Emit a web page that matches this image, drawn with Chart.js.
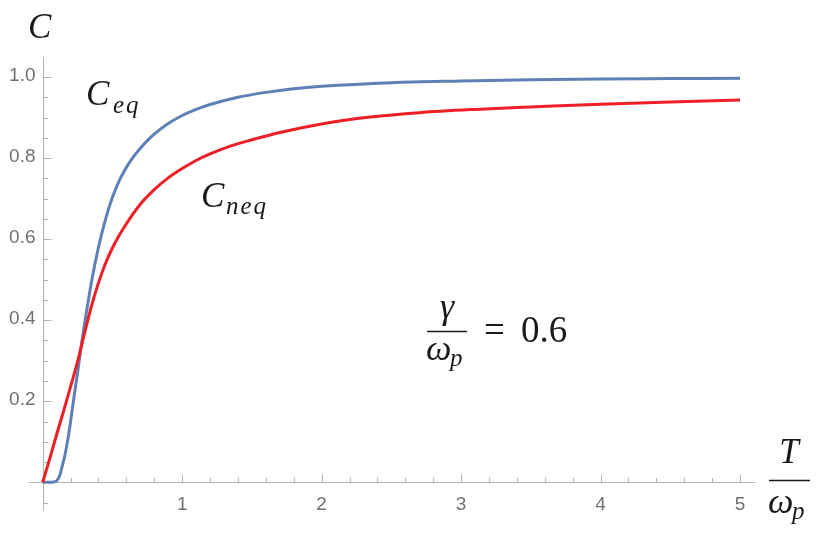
<!DOCTYPE html>
<html>
<head>
<meta charset="UTF-8">
<title>C vs T / omega_p</title>
<style>
  body { margin: 0; background: #fff; }
  #wrap { width: 819px; height: 533px; }
</style>
</head>
<body>
<div id="wrap"><canvas id="chart" width="819" height="533"></canvas></div>
<script src="https://cdn.jsdelivr.net/npm/chart.js"></script>
<script>
// values
const eqT = [0, 0.05, 0.08, 0.1, 0.12, 0.14, 0.16, 0.18, 0.2, 0.22, 0.25, 0.28, 0.3, 0.35, 0.4, 0.45, 0.5, 0.55, 0.6, 0.65, 0.7, 0.75, 0.8, 0.9, 1.0, 1.1, 1.2, 1.4, 1.6, 1.8, 2.0, 2.5, 3.0, 3.5, 4.0, 4.5, 5.0];
const eqC = [0, 0, 0.001, 0.004, 0.015, 0.04, 0.068, 0.105, 0.15, 0.2, 0.27, 0.345, 0.39, 0.495, 0.58, 0.648, 0.703, 0.745, 0.777, 0.803, 0.824, 0.843, 0.859, 0.885, 0.905, 0.92, 0.932, 0.95, 0.962, 0.971, 0.977, 0.986, 0.99, 0.993, 0.995, 0.996, 0.997];

const neqT = [0, 0.05, 0.1, 0.15, 0.2, 0.25, 0.3, 0.35, 0.4, 0.45, 0.5, 0.55, 0.6, 0.7, 0.8, 0.9, 1.0, 1.1, 1.2, 1.35, 1.5, 1.7, 2.0, 2.35, 2.7, 3.1, 3.5, 4.0, 4.5, 5.0];
const neqC = [0, 0.058, 0.118, 0.176, 0.236, 0.298, 0.368, 0.435, 0.492, 0.54, 0.578, 0.61, 0.638, 0.686, 0.722, 0.751, 0.774, 0.794, 0.81, 0.83, 0.845, 0.863, 0.884, 0.901, 0.912, 0.92, 0.926, 0.933, 0.938, 0.943];

const xTickLabels = [1, 2, 3, 4, 5];
const yTickLabels = [0.2, 0.4, 0.6, 0.8, 1.0];

const axisColor = '#b3b3b3';
const labelColor = '#707070';
const mathFont = '"Liberation Serif", "Times New Roman", serif';
const tickFont = '19px "Liberation Sans", Arial, sans-serif';

function toPoints(xs, ys) {
  return xs.map((x, i) => ({ x: x, y: ys[i] }));
}

// Mathematica style axes crossing at the origin
const axesPlugin = {
  id: 'axesPlugin',
  beforeDatasetsDraw(chart) {
    const ctx = chart.ctx;
    const sx = chart.scales.x, sy = chart.scales.y;
    const x0 = Math.round(sx.getPixelForValue(0)) + 0.5;
    const y0 = Math.round(sy.getPixelForValue(0)) + 0.5;
    ctx.save();
    ctx.strokeStyle = axisColor;
    ctx.lineWidth = 1;
    ctx.beginPath();
    ctx.moveTo(sx.getPixelForValue(-0.1), y0);
    ctx.lineTo(sx.getPixelForValue(5.11), y0);
    ctx.moveTo(x0, sy.getPixelForValue(1.05));
    ctx.lineTo(x0, sy.getPixelForValue(-0.07));
    // x ticks
    for (let i = 1; i <= 25; i++) {
      const px = Math.round(sx.getPixelForValue(i * 0.2)) + 0.5;
      const len = i % 5 === 0 ? 8 : 4.5;
      ctx.moveTo(px, y0);
      ctx.lineTo(px, y0 - len);
    }
    // y ticks
    for (let i = -1; i <= 20; i++) {
      if (i === 0) continue;
      const py = Math.round(sy.getPixelForValue(i * 0.05)) + 0.5;
      const len = i % 4 === 0 ? 8 : 4.5;
      ctx.moveTo(x0, py);
      ctx.lineTo(x0 + len, py);
    }
    ctx.stroke();

    ctx.fillStyle = labelColor;
    ctx.font = tickFont;
    ctx.textAlign = 'center';
    ctx.textBaseline = 'alphabetic';
    xTickLabels.forEach(v => {
      ctx.fillText(String(v), sx.getPixelForValue(v), y0 + 27);
    });
    ctx.textAlign = 'right';
    ctx.textBaseline = 'middle';
    yTickLabels.forEach(v => {
      ctx.fillText(v.toFixed(1), x0 - 8, sy.getPixelForValue(v) - 1);
    });
    ctx.restore();
  },
  afterDraw(chart) {
    const ctx = chart.ctx;
    ctx.save();
    ctx.fillStyle = '#1a1a1a';
    ctx.strokeStyle = '#1a1a1a';
    ctx.textBaseline = 'alphabetic';
    ctx.textAlign = 'left';

    const it = size => 'italic ' + size + 'px ' + mathFont;

    // axis titles
    ctx.font = it(35);
    ctx.fillText('C', 28, 38);

    ctx.textAlign = 'center';
    ctx.fillText('T', 789, 463);
    ctx.lineWidth = 1.4;
    ctx.beginPath();
    ctx.moveTo(769, 480.5);
    ctx.lineTo(810, 480.5);
    ctx.stroke();
    ctx.textAlign = 'left';
    ctx.font = it(36);
    ctx.fillText('\u03C9', 768, 513);
    ctx.font = it(25);
    ctx.fillText('p', 792, 519);

    // curve labels
    ctx.font = it(35);
    ctx.fillText('C', 86, 105);
    ctx.fillText('C', 201, 207);
    ctx.font = it(25);
    ctx.letterSpacing = '2px';
    ctx.fillText('eq', 113, 113);
    ctx.fillText('neq', 226, 214);
    ctx.letterSpacing = '0px';

    // gamma / omega_p = 0.6
    ctx.font = it(36);
    ctx.textAlign = 'center';
    ctx.fillText('\u03B3', 447, 318);
    ctx.beginPath();
    ctx.moveTo(427, 331.5);
    ctx.lineTo(467, 331.5);
    ctx.stroke();
    ctx.textAlign = 'left';
    ctx.fillText('\u03C9', 426, 360);
    ctx.font = it(25);
    ctx.fillText('p', 450, 366);
    ctx.font = '37px ' + mathFont;
    ctx.fillText('=', 484, 342);
    ctx.fillText('0.6', 521, 342);
    ctx.restore();
  }
};

new Chart(document.getElementById('chart'), {
  type: 'line',
  data: {
    datasets: [
      {
        label: 'C_neq',
        data: toPoints(neqT, neqC),
        borderColor: '#ee1f26',
        borderWidth: 3,
        cubicInterpolationMode: 'monotone',
        pointRadius: 0,
        fill: false
      },
      {
        label: 'C_eq',
        data: toPoints(eqT, eqC),
        borderColor: '#5e81b5',
        borderWidth: 3,
        cubicInterpolationMode: 'monotone',
        pointRadius: 0,
        fill: false
      }
    ]
  },
  options: {
    responsive: false,
    animation: false,
    layout: { padding: { left: 28.75, right: 72, top: 56.7, bottom: 30.4 } },
    plugins: {
      legend: { display: false },
      tooltip: { enabled: false }
    },
    scales: {
      x: { type: 'linear', min: -0.1, max: 5.05, display: false },
      y: { type: 'linear', min: -0.05, max: 1.05, display: false }
    }
  },
  plugins: [axesPlugin]
});
</script>
</body>
</html>
